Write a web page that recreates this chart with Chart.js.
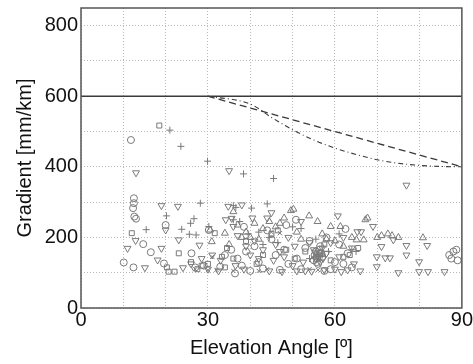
<!DOCTYPE html>
<html>
<head>
<meta charset="utf-8">
<script src="https://cdn.jsdelivr.net/npm/chart.js@4/dist/chart.umd.min.js"></script>
<style>
  html, body { margin: 0; padding: 0; background: #fff; }
  #wrap { width: 473px; height: 364px; }
</style>
</head>
<body>
<div id="wrap"><canvas id="gradChart" width="473" height="364"></canvas></div>
<script>
// observations: [elevation angle (deg), gradient (mm/km)]
var circlePts = [[10.1,129],[11.8,476],[12.5,311],[12.5,297],[12.3,283],[12.6,259],[13,253],[12.4,115],[14.7,181],[16.5,158],
  [19.6,126],[20,235],[26.1,155],[30.2,221],[32.9,117],[36.4,98],[27,115],[29,120],[34,150],[35.5,165],[37,140],[38,120],
  [39,160],[40,105],[41,175],[42,130],[43,112],[45,195],[46,150],[47,108],[48,165],[49,125],[50.8,250],[51,140],[52,110],
  [53,170],[54,190],[55,135],[55.5,160],[56,125],[56.5,175],[57,145],[58,200],[59,110],[60,130],[61,180],[62.5,224],[63,155],
  [64,115],[87.5,140],[88,160],[88.7,165],[89,135],[87,150],[44,220],[48.5,235],[38.5,230],[57.5,105],[62,125],
  [55.2,150],[55.8,140],[56.3,165],[56.8,155],[55.7,130]];
var downTriPts = [[11,169],[12.9,191],[13,383],[15.1,114],[18.1,136],[19,169],[19,290],[20,221],[22.9,288],[23.1,193],
  [24.1,114],[28,178],[32.5,105],[34.2,250],[34.8,288],[35,389],[35.6,254],[36,231],[38,292],[37,205],[39,175],[40,150],
  [40.5,255],[41,190],[42,140],[43,165],[44,255],[45,270],[45.5,135],[46,180],[47,160],[48,145],[49,200],[50,120],[50.5,175],
  [52,245],[52.5,130],[53,105],[54,185],[55,165],[55.5,140],[56,150],[56.5,130],[57,170],[58,155],[59,185],[60,110],
  [60.7,261],[61,145],[62,200],[63,108],[64,170],[65.3,216],[66.2,216],[66,105],[69,231],[69.9,145],[69.9,117],[71,174],
  [71.9,142],[73,142],[73.8,193],[75,100],[76.9,177],[76.9,150],[76.9,348],[79.9,131],[79.9,103],[81.8,177],[82,103],
  [85.9,103],[26,125],[28.5,140],[30,110],[31,150],[33,135],[36.5,120],[38.5,110],[44.5,105],[47.5,103],[51,105],
  [54.5,104],[57.5,108],[61.5,103],[64.5,125],[55.3,158],[56.2,145],[57.2,140]];
var upTriPts = [[30.5,221],[30.9,188],[34,212],[36,273],[37,235],[38,200],[39,215],[41,240],[42,195],[43,225],[44.5,245],
  [46,230],[47,240],[49.6,276],[50.2,280],[51,215],[52,195],[53.9,261],[55.9,245],[57,210],[58,195],[59,231],[60,190],
  [61.3,231],[62,175],[64,200],[65.1,193],[66.8,193],[67.2,250],[67.7,255],[70,200],[71,205],[72.5,210],[73.5,205],[75,200],
  [80.8,199],[48,255],[40,200],[35,180]];
var plusPts = [[21,504],[23.6,458],[29.9,416],[38.4,380],[45.5,367],[28.2,297],[44,295],[40.3,283],[36.6,285],[15.4,222],
  [20.2,261],[23.8,223],[25.6,209],[26.7,253],[25.9,240],[27.2,207],[30.2,231],[36,250],[37.5,245],[39.5,210],[42,215],
  [43,180],[44.5,200],[46.5,185],[50,230],[52,225],[54,140],[55.5,195],[57,150],[58.5,160],[61,210],[64,165],[65,160],[36,290]];
var squarePts = [[18.5,517],[12,212],[20.3,115],[20.7,103],[22.1,103],[23.1,155],[31.6,212],[33.3,145],[26,130],[27.5,110],
  [28.5,120],[30,125],[34.5,170],[36,140],[39,190],[41.5,125],[43,150],[45,210],[46.5,220],[48.5,165],[50.5,140],[53,160],
  [55.5,145],[56.5,155],[57.5,180],[59,135],[62,145],[63.5,150],[65.5,170],[34,115]];
var crossPts = [[31,145],[30,107],[32,108],[42,105],[44,110],[45,215],[54,110],[56,108],[58,107],[47,212],[27,110],[36,105]];

// reference limits
var limitFlat = [[0,600],[90,600]];
var limitDashed = [[30,600],[60,500],[90,400]];
var limitDashDot = [[30,600],[40,578],[45,540],[50,505],[55,476],[60,453],[65,435],[70,420],[75,410],[80,404],[85,401],[90,400]];

var xTicks = [0, 30, 60, 90];
var yTicks = [0, 200, 400, 600, 800];
var yGrid = [0, 100, 200, 300, 400, 500, 600, 700, 800];

function toXY(arr) {
  return arr.map(function (p) { return { x: p[0], y: p[1] }; });
}

var markColor = '#7a7a7a';
function markSet(arr, style, r, rot) {
  return {
    type: 'scatter', data: toXY(arr), pointStyle: style, pointRadius: r, pointRotation: rot || 0,
    borderColor: markColor, backgroundColor: 'rgba(0,0,0,0)', pointBorderWidth: 1, showLine: false
  };
}
function lineSet(arr, dash, width, smooth) {
  return {
    type: 'scatter', data: toXY(arr), showLine: true, pointRadius: 0, borderColor: '#3a3a3a',
    borderWidth: width, borderDash: dash, fill: false,
    cubicInterpolationMode: smooth ? 'monotone' : 'default'
  };
}

var frame = {
  id: 'frame',
  afterDraw: function (chart) {
    var a = chart.chartArea, c = chart.ctx;
    c.save();
    c.strokeStyle = '#555';
    c.lineWidth = 1.5;
    c.strokeRect(a.left, a.top, a.right - a.left, a.bottom - a.top);
    c.restore();
  }
};

var font = { family: "'Liberation Sans', Arial, sans-serif", size: 20 };

new Chart(document.getElementById('gradChart').getContext('2d'), {
  type: 'scatter',
  data: {
    datasets: [
      markSet(circlePts, 'circle', 3.5),
      markSet(downTriPts, 'triangle', 4, 180),
      markSet(upTriPts, 'triangle', 4),
      markSet(plusPts, 'cross', 3.5),
      markSet(squarePts, 'rect', 3.5),
      markSet(crossPts, 'crossRot', 3),
      lineSet(limitFlat, [], 1.5),
      lineSet(limitDashed, [7, 4], 1.3),
      lineSet(limitDashDot, [5, 3, 1, 3], 1.1, true)
    ]
  },
  options: {
    responsive: false,
    animation: false,
    layout: { padding: { left: 8, right: 7, top: 8, bottom: 0 } },
    plugins: { legend: { display: false }, tooltip: { enabled: false } },
    scales: {
      x: {
        min: 0, max: 90,
        afterFit: function (s) { s.height = 56; },
        ticks: {
          stepSize: 10, autoSkip: false, maxRotation: 0, padding: 0, color: '#111', font: font,
          callback: function (v) { return xTicks.indexOf(v) >= 0 ? String(v) : ''; }
        },
        grid: { color: '#b8b8b8', lineWidth: 1, drawTicks: false },
        border: { display: false, dash: [1, 2] },
        title: { display: true, text: 'Elevation Angle [º]', color: '#111', font: font, padding: { top: 0, bottom: 4 } }
      },
      y: {
        min: 0, max: 850,
        afterBuildTicks: function (s) { s.ticks = yGrid.map(function (v) { return { value: v }; }); },
        afterFit: function (s) { s.width = 73; s.paddingTop = 0; },
        ticks: {
          autoSkip: false, padding: 3, color: '#111', font: font,
          callback: function (v) { return yTicks.indexOf(v) >= 0 ? String(v) : ''; }
        },
        grid: { color: '#b8b8b8', lineWidth: 1, drawTicks: false },
        border: { display: false, dash: [1, 2] },
        title: { display: true, text: 'Gradient [mm/km]', color: '#111', font: font, padding: { top: 5, bottom: 0 } }
      }
    }
  },
  plugins: [frame]
});
</script>
</body>
</html>
